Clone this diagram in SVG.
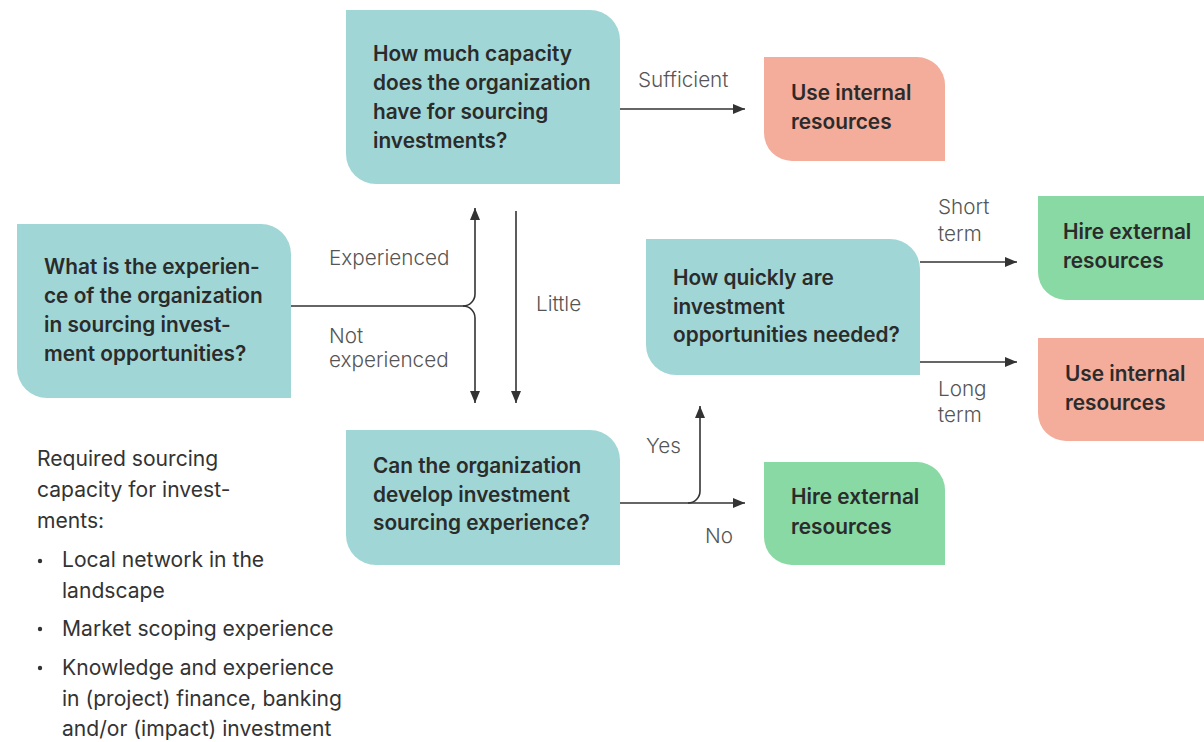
<svg xmlns="http://www.w3.org/2000/svg" width="1204" height="742" viewBox="0 0 1204 742">
<style>
.teal{fill:#A0D7D6}
.sal{fill:#F4AC9B}
.grn{fill:#88D9A3}
.nt{font-family:Inter,"Liberation Sans",sans-serif;font-size:20.8px;font-weight:600;fill:#2B2B2B}
.lb{font-family:Inter,"Liberation Sans",sans-serif;font-size:20.7px;font-weight:300;fill:#555}
.tx{font-family:Inter,"Liberation Sans",sans-serif;font-size:21.1px;font-weight:400;fill:#333}
.ln{fill:none;stroke:#333;stroke-width:1.6}
</style>
<defs>
<marker id="ah" viewBox="0 0 12 10" refX="12" refY="5" markerWidth="12" markerHeight="10" markerUnits="userSpaceOnUse" orient="auto">
<path d="M0,0 L12,5 L0,10 Z" fill="#333"/>
</marker>
</defs>
<rect width="1204" height="742" fill="#fff"/>

<g id="n-capacity">
<path class="teal" d="M346,10 H590 A30,30 0 0 1 620,40 V184 H376 A30,30 0 0 1 346,154 Z"/>
<text class="nt" x="373" y="61">How much capacity</text>
<text class="nt" x="373" y="90">does the organization</text>
<text class="nt" x="373" y="119">have for sourcing</text>
<text class="nt" x="373" y="148">investments?</text>
</g>

<g id="n-internal1">
<path class="sal" d="M764,57 H917 A28,28 0 0 1 945,85 V161 H792 A28,28 0 0 1 764,133 Z"/>
<text class="nt" x="791" y="100">Use internal</text>
<text class="nt" x="791" y="129">resources</text>
</g>

<g id="n-experience">
<path class="teal" d="M17,224 H261 A30,30 0 0 1 291,254 V398 H47 A30,30 0 0 1 17,368 Z"/>
<text class="nt" x="44" y="274">What is the experien-</text>
<text class="nt" x="44" y="303">ce of the organization</text>
<text class="nt" x="44" y="332">in sourcing invest-</text>
<text class="nt" x="44" y="361">ment opportunities?</text>
</g>

<g id="n-quickly">
<path class="teal" d="M646,239 H890 A30,30 0 0 1 920,269 V375 H676 A30,30 0 0 1 646,345 Z"/>
<text class="nt" x="673" y="285">How quickly are</text>
<text class="nt" x="673" y="314">investment</text>
<text class="nt" x="673" y="342">opportunities needed?</text>
</g>

<g id="n-external1">
<path class="grn" d="M1038,196 H1204 V300 H1066 A28,28 0 0 1 1038,272 Z"/>
<text class="nt" x="1063" y="239">Hire external</text>
<text class="nt" x="1063" y="268">resources</text>
</g>

<g id="n-internal2">
<path class="sal" d="M1038,338 H1204 V441 H1066 A28,28 0 0 1 1038,413 Z"/>
<text class="nt" x="1065" y="381">Use internal</text>
<text class="nt" x="1065" y="410">resources</text>
</g>

<g id="n-develop">
<path class="teal" d="M346,430 H590 A30,30 0 0 1 620,460 V565 H376 A30,30 0 0 1 346,535 Z"/>
<text class="nt" x="373" y="473">Can the organization</text>
<text class="nt" x="373" y="502">develop investment</text>
<text class="nt" x="373" y="530">sourcing experience?</text>
</g>

<g id="n-external2">
<path class="grn" d="M764,462 H917 A28,28 0 0 1 945,490 V565 H792 A28,28 0 0 1 764,537 Z"/>
<text class="nt" x="791" y="504">Hire external</text>
<text class="nt" x="791" y="534">resources</text>
</g>

<g id="connectors">
<path class="ln" marker-end="url(#ah)" d="M620,109 H745"/>
<path class="ln" d="M291,306 H463 A12,12 0 0 0 475,294"/>
<path class="ln" marker-end="url(#ah)" d="M475,294 V208"/>
<path class="ln" d="M463,306 A12,12 0 0 1 475,318"/>
<path class="ln" marker-end="url(#ah)" d="M475,318 V403"/>
<path class="ln" marker-end="url(#ah)" d="M516,211 V403"/>
<path class="ln" marker-end="url(#ah)" d="M620,503 H745"/>
<path class="ln" d="M688,503 A12,12 0 0 0 700,491"/>
<path class="ln" marker-end="url(#ah)" d="M700,491 V406"/>
<path class="ln" marker-end="url(#ah)" d="M920,262 H1017"/>
<path class="ln" marker-end="url(#ah)" d="M920,362 H1017"/>
</g>

<g id="labels">
<text class="lb" x="638" y="87">Sufficient</text>
<text class="lb" x="329" y="265">Experienced</text>
<text class="lb" x="329" y="343">Not</text>
<text class="lb" x="329" y="367">experienced</text>
<text class="lb" x="536" y="311">Little</text>
<text class="lb" x="646" y="453">Yes</text>
<text class="lb" x="705" y="543">No</text>
<text class="lb" x="938" y="214">Short</text>
<text class="lb" x="938" y="241">term</text>
<text class="lb" x="938" y="396">Long</text>
<text class="lb" x="938" y="422">term</text>
</g>

<g id="notes">
<text class="tx" x="37" y="466">Required sourcing</text>
<text class="tx" x="37" y="497">capacity for invest-</text>
<text class="tx" x="37" y="528">ments:</text>
<circle cx="40" cy="561" r="2.2" fill="#333"/>
<text class="tx" x="62" y="567">Local network in the</text>
<text class="tx" x="62" y="598">landscape</text>
<circle cx="40" cy="629" r="2.2" fill="#333"/>
<text class="tx" x="62" y="636">Market scoping experience</text>
<circle cx="40" cy="668" r="2.2" fill="#333"/>
<text class="tx" x="62" y="675">Knowledge and experience</text>
<text class="tx" x="62" y="706">in (project) finance, banking</text>
<text class="tx" x="62" y="736">and/or (impact) investment</text>
</g>
</svg>
